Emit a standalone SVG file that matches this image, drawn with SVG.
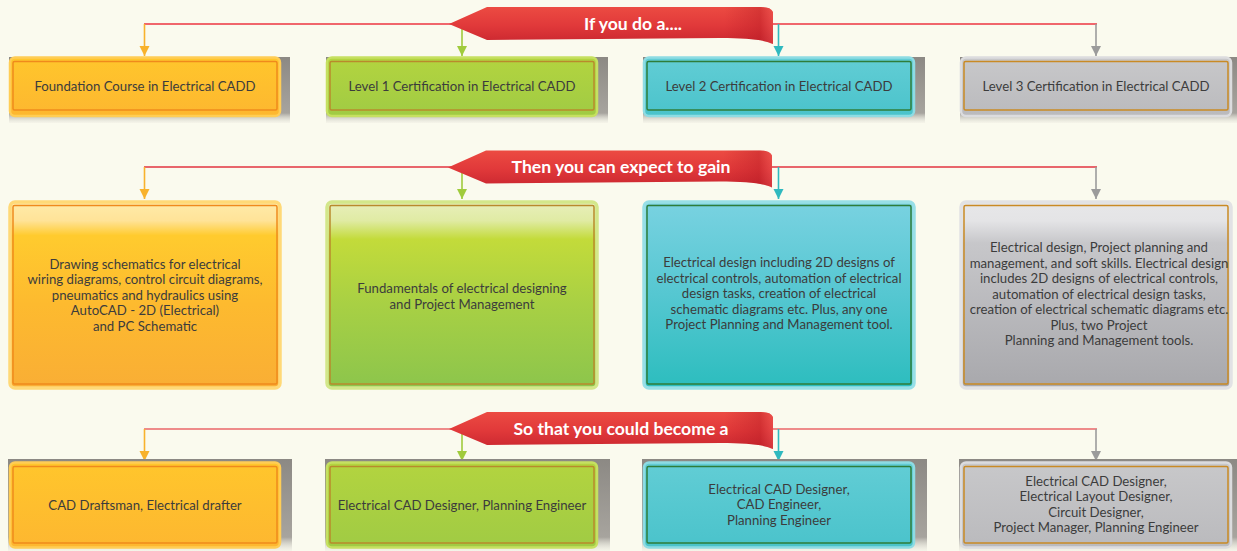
<svg xmlns="http://www.w3.org/2000/svg" xmlns:xlink="http://www.w3.org/1999/xlink" width="1237" height="551" viewBox="0 0 1237 551">
<defs>
<style>
.bg{fill:#FAFAEE}
.lbl{font-family:Lato,"Open Sans","DejaVu Sans",sans-serif;font-size:13.2px;fill:#3c3c3c;text-anchor:middle}
.ttl{font-family:Lato,"Open Sans","DejaVu Sans",sans-serif;font-size:17.6px;font-weight:bold;fill:#ffffff;text-anchor:middle}
.outer{stroke-width:2.5}
.inner{fill:none;stroke-width:1.5}
.o .outer{stroke:#FFCD55}
.o .inner{stroke:#F08A1C}
.g .outer{stroke:#C6E061}
.g .inner{stroke:#B98A2C}
.t .outer{stroke:#8EDCE3}
.t .inner{stroke:#2F7D3A}
.s .outer{stroke:#DCDCDE}
.s .inner{stroke:#C98A25}
.o.big .outer{stroke:#FFD977;stroke-width:3.5}
.g.big .outer{stroke:#D3E78A;stroke-width:3.5}
.t.big .outer{stroke:#98DFE7;stroke-width:3.5}
.s.big .outer{stroke:#E2E2E4;stroke-width:3.5}
.hline{fill:none;stroke-width:1.6}
.vline{fill:none;stroke-width:1.6}
</style>
<linearGradient id="shadowGrad" x1="0" y1="0" x2="0" y2="1">
<stop offset="0" stop-color="#8C8984"/>
<stop offset="0.85" stop-color="#A7A49E"/>
<stop offset="1" stop-color="#E9E8DE" stop-opacity="0.3"/>
</linearGradient>
<linearGradient id="oFlat" x1="0" y1="0" x2="0" y2="1">
<stop offset="0" stop-color="#FFC62C"/><stop offset="1" stop-color="#FDB730"/>
</linearGradient>
<linearGradient id="gFlat" x1="0" y1="0" x2="0" y2="1">
<stop offset="0" stop-color="#B3D43F"/><stop offset="1" stop-color="#A0CB44"/>
</linearGradient>
<linearGradient id="tFlat" x1="0" y1="0" x2="0" y2="1">
<stop offset="0" stop-color="#62CDD5"/><stop offset="1" stop-color="#4AC3CB"/>
</linearGradient>
<linearGradient id="sFlat" x1="0" y1="0" x2="0" y2="1">
<stop offset="0" stop-color="#C8C8CA"/><stop offset="1" stop-color="#BABABD"/>
</linearGradient>
<linearGradient id="oBig" x1="0" y1="0" x2="0" y2="1">
<stop offset="0" stop-color="#FFEBAA"/><stop offset="0.1" stop-color="#FFE398"/><stop offset="0.18" stop-color="#FFCB2E"/><stop offset="0.55" stop-color="#FDBA2F"/><stop offset="1" stop-color="#F9AE35"/>
</linearGradient>
<linearGradient id="gBig" x1="0" y1="0" x2="0" y2="1">
<stop offset="0" stop-color="#E8EFBB"/><stop offset="0.1" stop-color="#E0EBA4"/><stop offset="0.2" stop-color="#C3DB3A"/><stop offset="0.55" stop-color="#A8D044"/><stop offset="1" stop-color="#8CC54C"/>
</linearGradient>
<linearGradient id="tBig" x1="0" y1="0" x2="0" y2="1">
<stop offset="0" stop-color="#79D2E1"/><stop offset="0.5" stop-color="#55C7D1"/><stop offset="1" stop-color="#2CBDBE"/>
</linearGradient>
<linearGradient id="sBig" x1="0" y1="0" x2="0" y2="1">
<stop offset="0" stop-color="#E7E7E9"/><stop offset="0.1" stop-color="#E4E4E6"/><stop offset="0.22" stop-color="#C7C7CA"/><stop offset="1" stop-color="#A8A8AC"/>
</linearGradient>
<linearGradient id="bannerGrad" x1="0" y1="0" x2="0" y2="1">
<stop offset="0" stop-color="#EC4B42"/><stop offset="0.5" stop-color="#E1393A"/><stop offset="1" stop-color="#C9262F"/>
</linearGradient>
<linearGradient id="bannerEnd" x1="0" y1="0" x2="1" y2="0">
<stop offset="0" stop-color="#B0151F" stop-opacity="0"/><stop offset="0.85" stop-color="#B0151F" stop-opacity="0"/><stop offset="0.96" stop-color="#B0151F" stop-opacity="0.35"/><stop offset="1" stop-color="#F06060" stop-opacity="0.3"/>
</linearGradient>
<path id="banner" d="M0,0 L38,-17 L312,-17 Q322,-17 324,-12 L324,20 C316,16 300,14 271,14 L38,16 Z"/>
<marker id="arO" markerUnits="userSpaceOnUse" markerWidth="11" markerHeight="11" refX="10" refY="5" orient="auto"><path d="M0,0 L10,5 L0,10 Z" fill="#F8B22C"/></marker>
<marker id="arG" markerUnits="userSpaceOnUse" markerWidth="11" markerHeight="11" refX="10" refY="5" orient="auto"><path d="M0,0 L10,5 L0,10 Z" fill="#A0CB3C"/></marker>
<marker id="arT" markerUnits="userSpaceOnUse" markerWidth="11" markerHeight="11" refX="10" refY="5" orient="auto"><path d="M0,0 L10,5 L0,10 Z" fill="#2FB9BF"/></marker>
<marker id="arS" markerUnits="userSpaceOnUse" markerWidth="11" markerHeight="11" refX="10" refY="5" orient="auto"><path d="M0,0 L10,5 L0,10 Z" fill="#9B9B9B"/></marker>
</defs>

<rect class="bg" x="0" y="0" width="1237" height="551"/>

<g id="connectors">
<path class="hline" stroke="#EC3541" d="M144,24 H1097"/>
<path class="hline" stroke="#E2333F" d="M144,167 H1097"/>
<path class="hline" stroke="#EA6668" d="M144,429 H1097"/>
<path class="vline" stroke="#F8B22C" marker-end="url(#arO)" d="M144.5,24 V56"/>
<path class="vline" stroke="#A0CB3C" marker-end="url(#arG)" d="M462,24 V56"/>
<path class="vline" stroke="#2FB9BF" marker-end="url(#arT)" d="M778.5,24 V56"/>
<path class="vline" stroke="#9B9B9B" marker-end="url(#arS)" d="M1096,24 V56"/>
<path class="vline" stroke="#F8B22C" marker-end="url(#arO)" d="M144.5,167 V199"/>
<path class="vline" stroke="#A0CB3C" marker-end="url(#arG)" d="M462,167 V199"/>
<path class="vline" stroke="#2FB9BF" marker-end="url(#arT)" d="M778.5,167 V199"/>
<path class="vline" stroke="#9B9B9B" marker-end="url(#arS)" d="M1096,167 V199"/>
<path class="vline" stroke="#F8B22C" marker-end="url(#arO)" d="M144.5,429 V461"/>
<path class="vline" stroke="#A0CB3C" marker-end="url(#arG)" d="M462,429 V461"/>
<path class="vline" stroke="#2FB9BF" marker-end="url(#arT)" d="M778.5,429 V461"/>
<path class="vline" stroke="#9B9B9B" marker-end="url(#arS)" d="M1096,429 V461"/>
</g>

<g id="banner-if-you-do">
<use xlink:href="#banner" href="#banner" transform="translate(449,24)" fill="url(#bannerGrad)"/>
<use xlink:href="#banner" href="#banner" transform="translate(449,24)" fill="url(#bannerEnd)"/>
<text class="ttl" x="633" y="30">If you do a....</text>
</g>
<g id="banner-expect">
<use xlink:href="#banner" href="#banner" transform="translate(448,167.5)" fill="url(#bannerGrad)"/>
<use xlink:href="#banner" href="#banner" transform="translate(448,167.5)" fill="url(#bannerEnd)"/>
<text class="ttl" x="621" y="173">Then you can expect to gain</text>
</g>
<g id="banner-become">
<use xlink:href="#banner" href="#banner" transform="translate(449,429)" fill="url(#bannerGrad)"/>
<use xlink:href="#banner" href="#banner" transform="translate(449,429)" fill="url(#bannerEnd)"/>
<text class="ttl" x="621" y="435">So that you could become a</text>
</g>

<!-- Row 1 -->
<g id="course-foundation" class="o">
<rect x="9" y="57" width="281" height="66" fill="url(#shadowGrad)"/>
<rect class="outer" x="10" y="57.5" width="270" height="58.5" rx="5" fill="url(#oFlat)"/>
<rect class="inner" x="13" y="61.5" width="264" height="48.5" rx="1.5"/>
<text class="lbl" x="145" y="90.5">Foundation Course in Electrical CADD</text>
</g>
<g id="course-level1" class="g">
<rect x="326" y="57" width="282" height="66" fill="url(#shadowGrad)"/>
<rect class="outer" x="327" y="57.5" width="270" height="58.5" rx="5" fill="url(#gFlat)"/>
<rect class="inner" x="330" y="61.5" width="264" height="48.5" rx="1.5"/>
<text class="lbl" x="462" y="90.5">Level 1 Certification in Electrical CADD</text>
</g>
<g id="course-level2" class="t">
<rect x="643" y="57" width="282" height="66" fill="url(#shadowGrad)"/>
<rect class="outer" x="644" y="57.5" width="270" height="58.5" rx="5" fill="url(#tFlat)"/>
<rect class="inner" x="647" y="61.5" width="264" height="48.5" rx="1.5"/>
<text class="lbl" x="779" y="90.5">Level 2 Certification in Electrical CADD</text>
</g>
<g id="course-level3" class="s">
<rect x="960" y="57" width="277" height="66" fill="url(#shadowGrad)"/>
<rect class="outer" x="961" y="57.5" width="270" height="58.5" rx="5" fill="url(#sFlat)"/>
<rect class="inner" x="964" y="61.5" width="264" height="48.5" rx="1.5"/>
<text class="lbl" x="1096" y="90.5">Level 3 Certification in Electrical CADD</text>
</g>

<!-- Row 2 -->
<g id="gain-foundation" class="o big">
<rect class="outer" x="10" y="202" width="270" height="186" rx="5" fill="url(#oBig)"/>
<rect class="inner" x="13" y="205.5" width="264" height="178.5" rx="1.5"/>
<text class="lbl" x="145" y="268.5">Drawing schematics for electrical</text>
<text class="lbl" x="145" y="284">wiring diagrams, control circuit diagrams,</text>
<text class="lbl" x="145" y="299.5">pneumatics and hydraulics using</text>
<text class="lbl" x="145" y="315">AutoCAD - 2D (Electrical)</text>
<text class="lbl" x="145" y="330.5">and PC Schematic</text>
</g>
<g id="gain-level1" class="g big">
<rect class="outer" x="327" y="202" width="270" height="186" rx="5" fill="url(#gBig)"/>
<rect class="inner" x="330" y="205.5" width="264" height="178.5" rx="1.5"/>
<text class="lbl" x="462" y="293">Fundamentals of electrical designing</text>
<text class="lbl" x="462" y="308.5">and Project Management</text>
</g>
<g id="gain-level2" class="t big">
<rect class="outer" x="644" y="202" width="270" height="186" rx="5" fill="url(#tBig)"/>
<rect class="inner" x="647" y="205.5" width="264" height="178.5" rx="1.5"/>
<text class="lbl" x="779" y="267">Electrical design including 2D designs of</text>
<text class="lbl" x="779" y="282.5">electrical controls, automation of electrical</text>
<text class="lbl" x="779" y="298">design tasks, creation of electrical</text>
<text class="lbl" x="779" y="313.5">schematic diagrams etc. Plus, any one</text>
<text class="lbl" x="779" y="329">Project Planning and Management tool.</text>
</g>
<g id="gain-level3" class="s big">
<rect class="outer" x="961" y="202" width="270" height="186" rx="5" fill="url(#sBig)"/>
<rect class="inner" x="964" y="205.5" width="264" height="178.5" rx="1.5"/>
<text class="lbl" x="1099" y="252">Electrical design, Project planning and</text>
<text class="lbl" x="1099" y="267.5">management, and soft skills. Electrical design</text>
<text class="lbl" x="1099" y="283">includes 2D designs of electrical controls,</text>
<text class="lbl" x="1099" y="298.5">automation of electrical design tasks,</text>
<text class="lbl" x="1099" y="314">creation of electrical schematic diagrams etc.</text>
<text class="lbl" x="1099" y="329.5">Plus, two Project</text>
<text class="lbl" x="1099" y="345">Planning and Management tools.</text>
</g>

<!-- Row 3 -->
<g id="role-foundation" class="o">
<rect x="8" y="459" width="284" height="92" fill="url(#shadowGrad)"/>
<rect class="outer" x="10" y="462.5" width="270" height="85" rx="5" fill="url(#oFlat)"/>
<rect class="inner" x="13" y="466.5" width="264" height="76.5" rx="1.5"/>
<text class="lbl" x="145" y="509.5">CAD Draftsman, Electrical drafter</text>
</g>
<g id="role-level1" class="g">
<rect x="325" y="459" width="285" height="92" fill="url(#shadowGrad)"/>
<rect class="outer" x="327" y="462.5" width="270" height="85" rx="5" fill="url(#gFlat)"/>
<rect class="inner" x="330" y="466.5" width="264" height="76.5" rx="1.5"/>
<text class="lbl" x="462" y="509.5">Electrical CAD Designer, Planning Engineer</text>
</g>
<g id="role-level2" class="t">
<rect x="642" y="459" width="285" height="92" fill="url(#shadowGrad)"/>
<rect class="outer" x="644" y="462.5" width="270" height="85" rx="5" fill="url(#tFlat)"/>
<rect class="inner" x="647" y="466.5" width="264" height="76.5" rx="1.5"/>
<text class="lbl" x="779" y="493.5">Electrical CAD Designer,</text>
<text class="lbl" x="779" y="509">CAD Engineer,</text>
<text class="lbl" x="779" y="524.5">Planning Engineer</text>
</g>
<g id="role-level3" class="s">
<rect x="959" y="459" width="278" height="92" fill="url(#shadowGrad)"/>
<rect class="outer" x="961" y="462.5" width="270" height="85" rx="5" fill="url(#sFlat)"/>
<rect class="inner" x="964" y="466.5" width="264" height="76.5" rx="1.5"/>
<text class="lbl" x="1096" y="485.5">Electrical CAD Designer,</text>
<text class="lbl" x="1096" y="501">Electrical Layout Designer,</text>
<text class="lbl" x="1096" y="516.5">Circuit Designer,</text>
<text class="lbl" x="1096" y="532">Project Manager, Planning Engineer</text>
</g>
</svg>
